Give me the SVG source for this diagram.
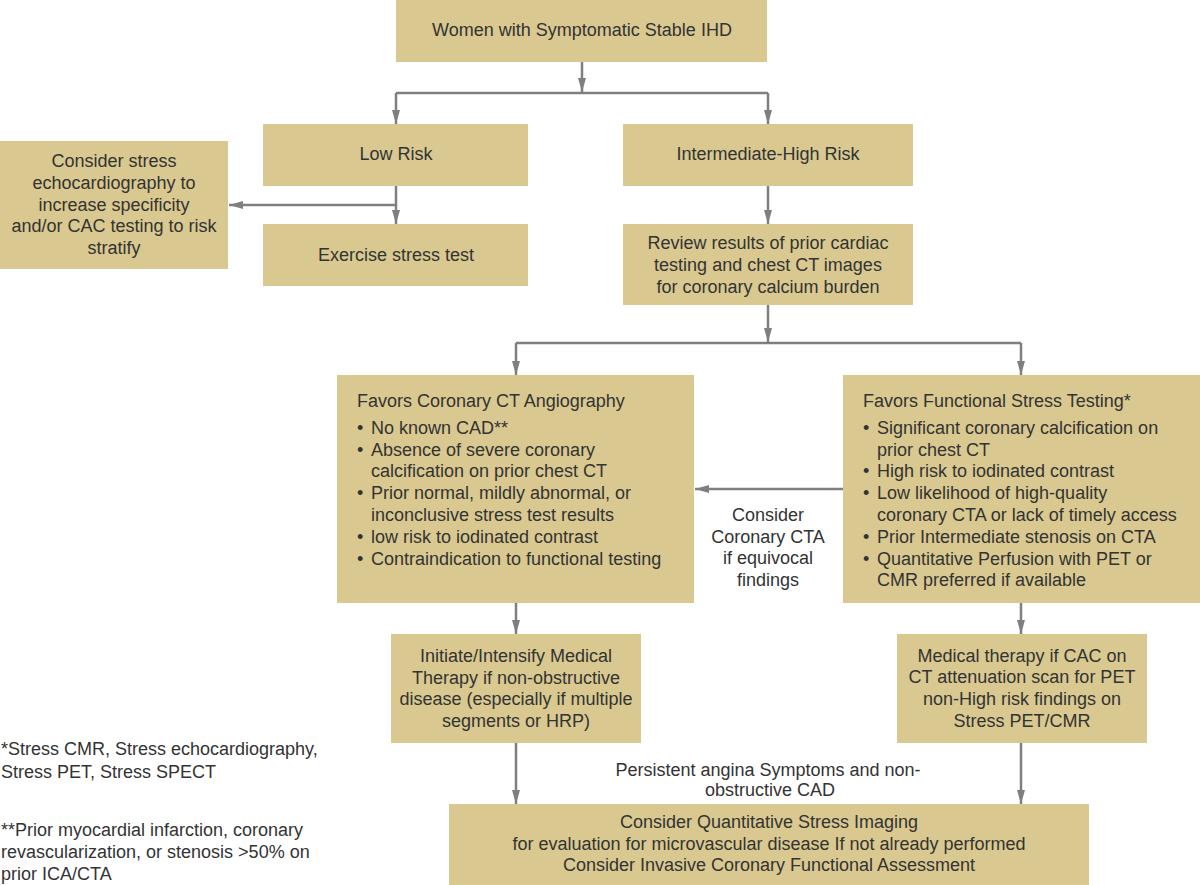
<svg xmlns="http://www.w3.org/2000/svg" width="1200" height="885" viewBox="0 0 1200 885">
<defs>
<style>
.box{fill:#d9c990;}
.t{font-family:"Liberation Sans",Arial,sans-serif;font-size:18px;fill:#333333;}
.c{text-anchor:middle;}
.ln{stroke:#7f7f7f;stroke-width:2.5;fill:none;}
.ar{marker-end:url(#ah);}
</style>
<marker id="ah" markerUnits="userSpaceOnUse" markerWidth="14" markerHeight="8" refX="14" refY="4" orient="auto">
<path d="M0,0 L14,4 L0,8 z" fill="#7f7f7f"/>
</marker>
</defs>
<rect width="1200" height="885" fill="#ffffff"/>

<g id="connectors">
<path class="ln ar" d="M582,62 V92"/>
<path class="ln" d="M396,93 H768"/>
<path class="ln ar" d="M396,93 V124"/>
<path class="ln ar" d="M768,93 V124"/>
<path class="ln ar" d="M396,186 V224"/>
<path class="ln ar" d="M396,205 H229"/>
<path class="ln ar" d="M768,186 V224"/>
<path class="ln ar" d="M768,305 V342"/>
<path class="ln" d="M516,343 H1021"/>
<path class="ln ar" d="M516,343 V375"/>
<path class="ln ar" d="M1021,343 V375"/>
<path class="ln ar" d="M843,489 H695"/>
<path class="ln ar" d="M516,603 V634"/>
<path class="ln ar" d="M1021,603 V634"/>
<path class="ln ar" d="M516,743 V804"/>
<path class="ln ar" d="M1021,743 V804"/>
</g>

<g id="start">
<rect class="box" x="396" y="0" width="371" height="62"/>
<text class="t c" x="582" y="36">Women with Symptomatic Stable IHD</text>
</g>

<g id="low-risk">
<rect class="box" x="263" y="124" width="265" height="62"/>
<text class="t c" x="396" y="160">Low Risk</text>
</g>

<g id="intermediate-high-risk">
<rect class="box" x="623" y="124" width="290" height="62"/>
<text class="t c" x="768" y="160">Intermediate-High Risk</text>
</g>

<g id="consider-stress-echo">
<rect class="box" x="0" y="141" width="228" height="128"/>
<text class="t c" x="114" y="167">Consider stress</text>
<text class="t c" x="114" y="189">echocardiography to</text>
<text class="t c" x="114" y="211">increase specificity</text>
<text class="t c" x="114" y="232">and/or CAC testing to risk</text>
<text class="t c" x="114" y="254">stratify</text>
</g>

<g id="exercise-stress-test">
<rect class="box" x="263" y="224" width="265" height="62"/>
<text class="t c" x="396" y="261">Exercise stress test</text>
</g>

<g id="review-results">
<rect class="box" x="623" y="224" width="290" height="81"/>
<text class="t c" x="768" y="249">Review results of prior cardiac</text>
<text class="t c" x="768" y="271">testing and chest CT images</text>
<text class="t c" x="768" y="293">for coronary calcium burden</text>
</g>

<g id="favors-cta">
<rect class="box" x="337" y="375" width="357" height="228"/>
<text class="t" x="357" y="407">Favors Coronary CT Angiography</text>
<text class="t" x="357" y="434">• <tspan x="371">No known CAD**</tspan></text>
<text class="t" x="357" y="456">• <tspan x="371">Absence of severe coronary</tspan></text>
<text class="t" x="371" y="477">calcification on prior chest CT</text>
<text class="t" x="357" y="499">• <tspan x="371">Prior normal, mildly abnormal, or</tspan></text>
<text class="t" x="371" y="521">inconclusive stress test results</text>
<text class="t" x="357" y="543">• <tspan x="371">low risk to iodinated contrast</tspan></text>
<text class="t" x="357" y="565">• <tspan x="371">Contraindication to functional testing</tspan></text>
</g>

<g id="favors-functional">
<rect class="box" x="843" y="375" width="357" height="228"/>
<text class="t" x="863" y="407">Favors Functional Stress Testing*</text>
<text class="t" x="863" y="434">• <tspan x="877">Significant coronary calcification on</tspan></text>
<text class="t" x="877" y="456">prior chest CT</text>
<text class="t" x="863" y="477">• <tspan x="877">High risk to iodinated contrast</tspan></text>
<text class="t" x="863" y="499">• <tspan x="877">Low likelihood of high-quality</tspan></text>
<text class="t" x="877" y="521">coronary CTA or lack of timely access</text>
<text class="t" x="863" y="543">• <tspan x="877">Prior Intermediate stenosis on CTA</tspan></text>
<text class="t" x="863" y="565">• <tspan x="877">Quantitative Perfusion with PET or</tspan></text>
<text class="t" x="877" y="586">CMR preferred if available</text>
</g>

<g id="consider-cta-label">
<text class="t c" x="768" y="521">Consider</text>
<text class="t c" x="768" y="543">Coronary CTA</text>
<text class="t c" x="768" y="564">if equivocal</text>
<text class="t c" x="768" y="586">findings</text>
</g>

<g id="initiate-medical-therapy">
<rect class="box" x="391" y="634" width="250" height="109"/>
<text class="t c" x="516" y="662">Initiate/Intensify Medical</text>
<text class="t c" x="516" y="684">Therapy if non-obstructive</text>
<text class="t c" x="516" y="705">disease (especially if multiple</text>
<text class="t c" x="516" y="727">segments or HRP)</text>
</g>

<g id="medical-therapy-cac">
<rect class="box" x="897" y="634" width="250" height="109"/>
<text class="t c" x="1022" y="662">Medical therapy if CAC on</text>
<text class="t c" x="1022" y="683">CT attenuation scan for PET</text>
<text class="t c" x="1022" y="705">non-High risk findings on</text>
<text class="t c" x="1022" y="727">Stress PET/CMR</text>
</g>

<g id="persistent-label">
<text class="t c" x="768" y="776">Persistent angina Symptoms and non-</text>
<text class="t c" x="770" y="796">obstructive CAD</text>
</g>

<g id="consider-quantitative">
<rect class="box" x="449" y="804" width="640" height="81"/>
<text class="t c" x="769" y="828">Consider Quantitative Stress Imaging</text>
<text class="t c" x="769" y="850">for evaluation for microvascular disease If not already performed</text>
<text class="t c" x="769" y="871">Consider Invasive Coronary Functional Assessment</text>
</g>

<g id="footnotes">
<text class="t" x="1" y="755">*Stress CMR, Stress echocardiography,</text>
<text class="t" x="1" y="778">Stress PET, Stress SPECT</text>
<text class="t" x="1" y="836">**Prior myocardial infarction, coronary</text>
<text class="t" x="1" y="858">revascularization, or stenosis &gt;50% on</text>
<text class="t" x="1" y="880">prior ICA/CTA</text>
</g>
</svg>
